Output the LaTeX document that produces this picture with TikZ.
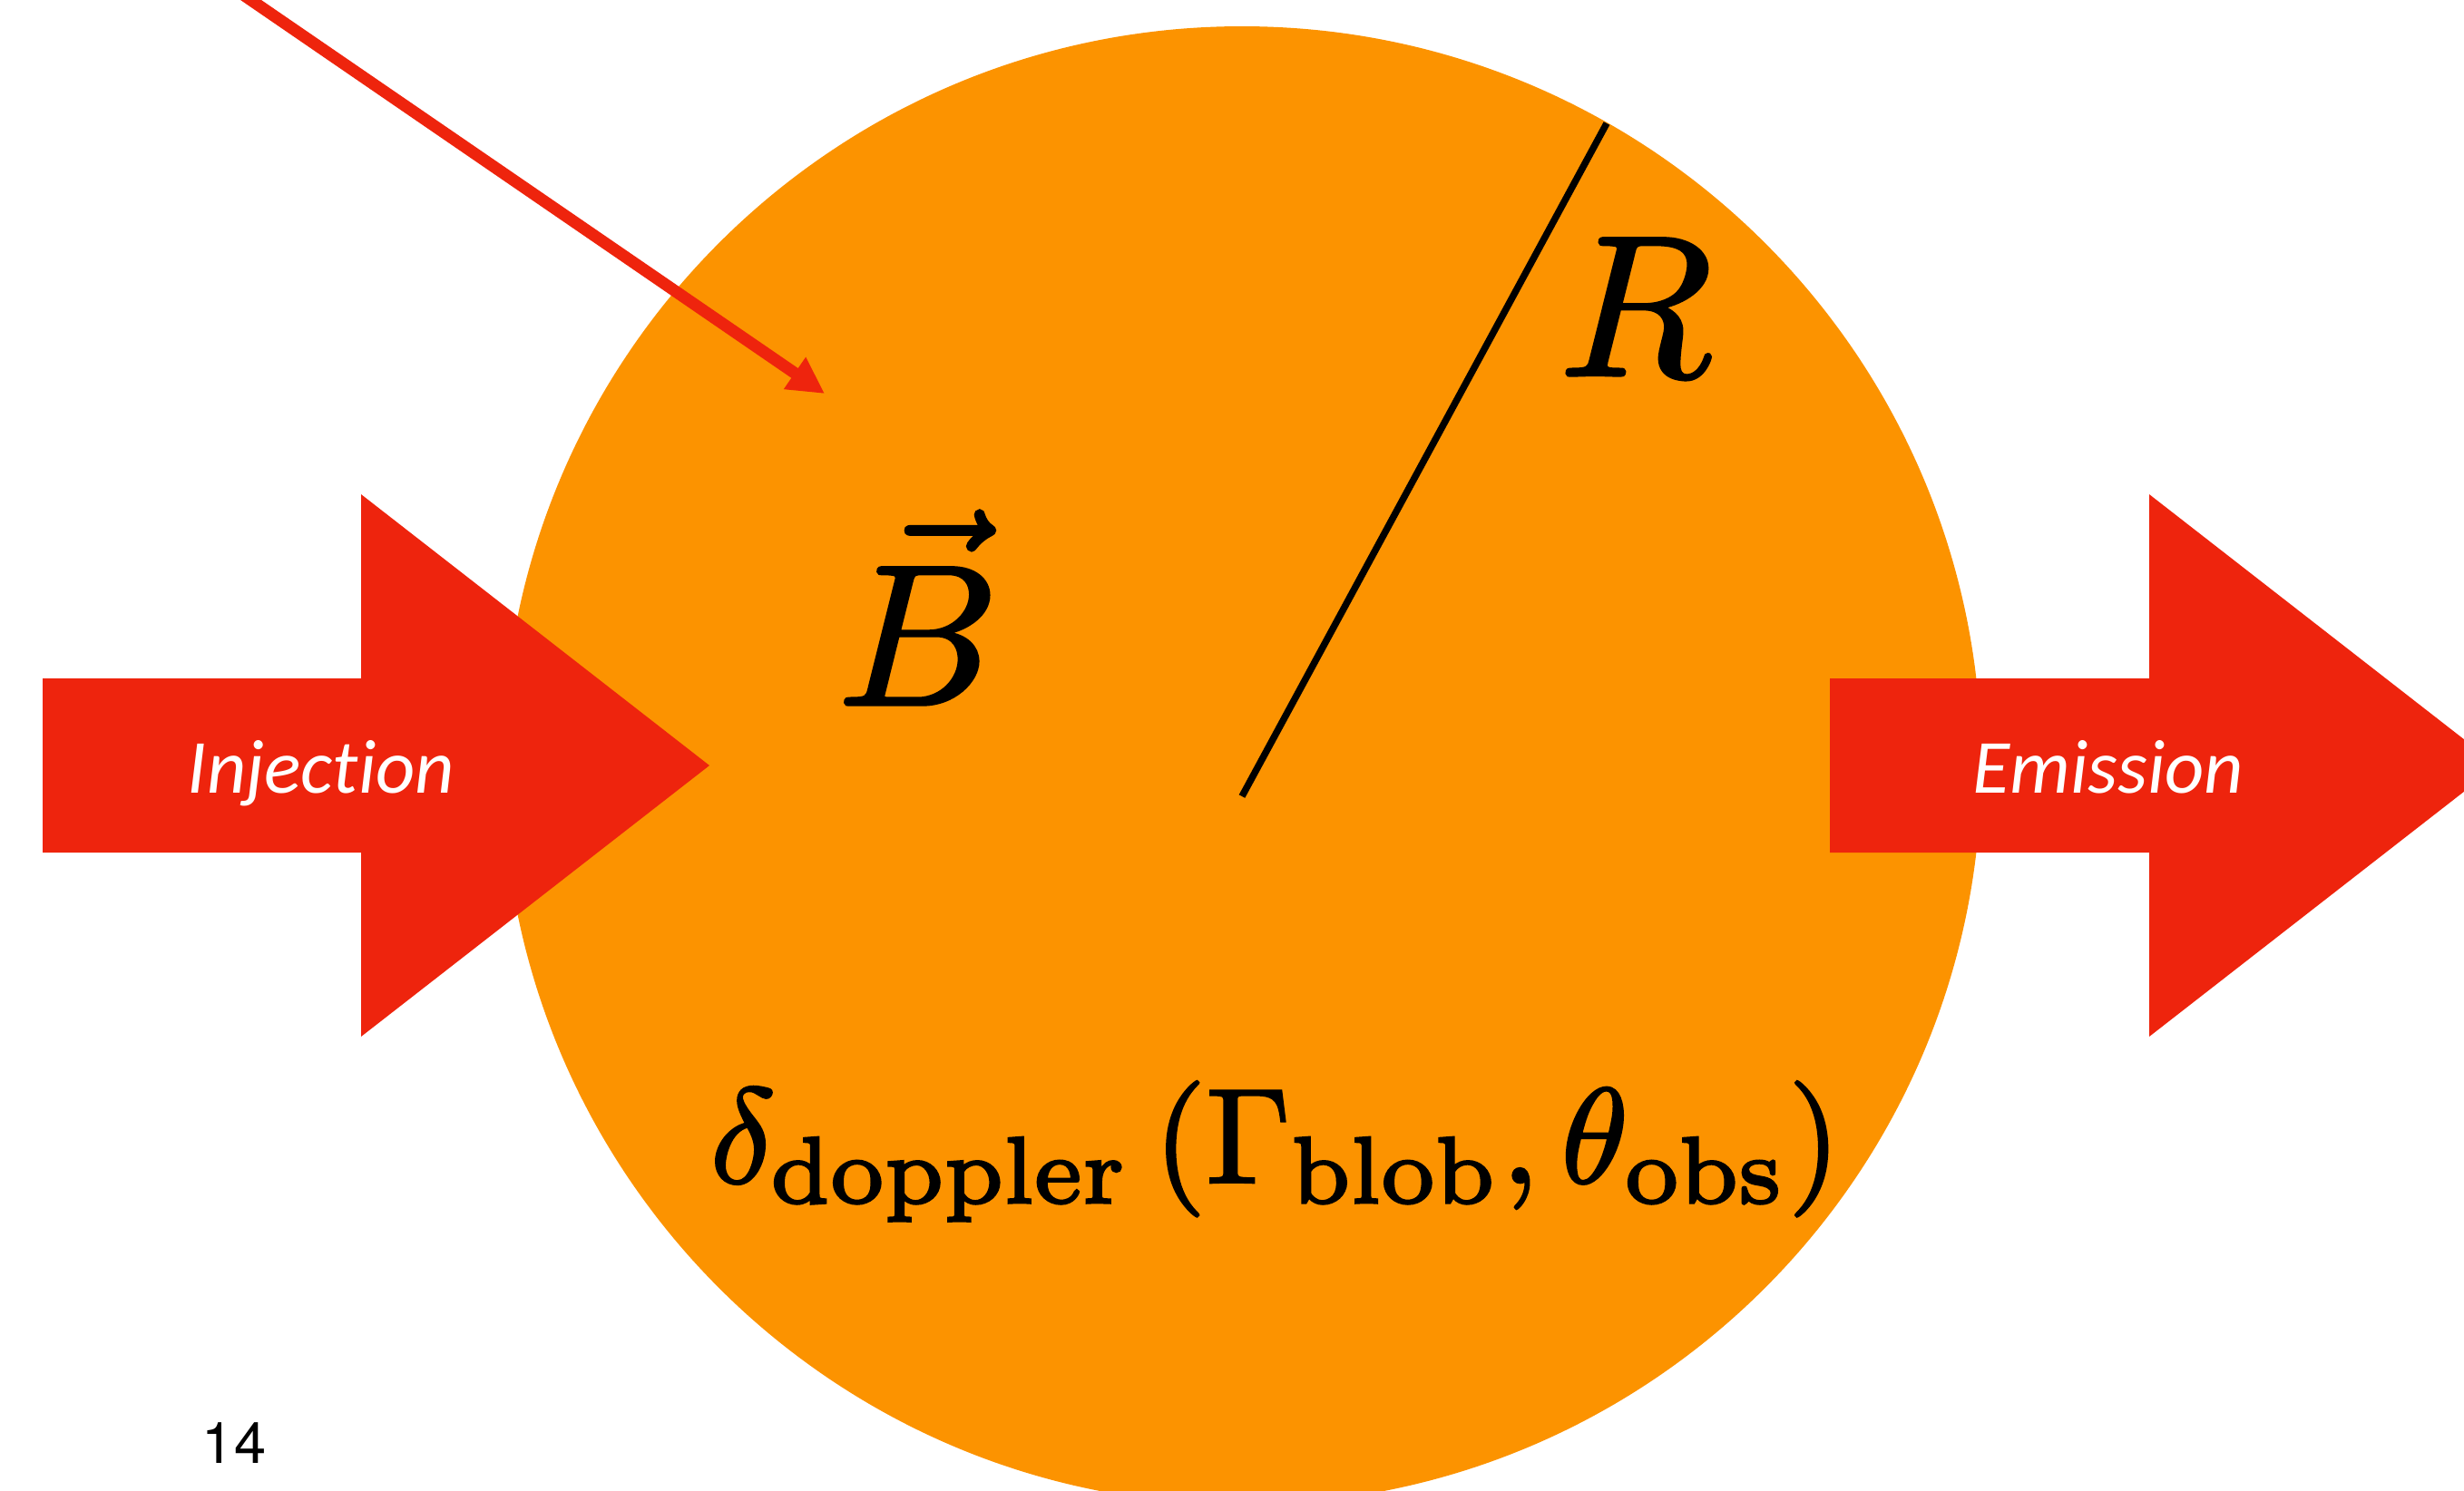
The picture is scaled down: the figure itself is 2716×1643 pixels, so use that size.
\documentclass[tikz,border=0pt]{standalone}
\usepackage{fontspec}
\usetikzlibrary{arrows.meta}
\newfontfamily\calib{Carlito}[Ligatures={NoCommon}]
\newfontfamily\numfont{TeX Gyre Heros}
\definecolor{blobor}{RGB}{252,147,0}
\definecolor{arrred}{RGB}{238,36,13}
\newcommand{\heavier}[2]{\special{pdf:literal 2 Tr #1 w}#2\special{pdf:literal 0 Tr}}
\begin{document}
\begin{tikzpicture}[x=0.1mm,y=-0.1mm,
  bigarrow/.style={fill=arrred,draw=none},
  arrlabel/.style={inner sep=0pt,anchor=base,text=white,font=\calib\itshape\fontsize{24}{28}\selectfont},
  mathlabel/.style={inner sep=0pt,anchor=base},
  pointer/.style={draw=arrred,line width=1.3mm,-{Triangle[length=4mm,width=4mm]}},
  radline/.style={draw=black,line width=0.75mm}]
\useasboundingbox (0,0) rectangle (2716,1643);
\clip (0,0) rectangle (2716,1643);
% blob
\fill[blobor] (1369,844) circle[radius=81.5mm];
% big arrows
\path[bigarrow] (47,748) -- (398,748) -- (398,545) -- (782,844) -- (398,1143) -- (398,940) -- (47,940) -- cycle;
\path[bigarrow] (2017,748) -- (2369,748) -- (2369,545) -- (2753,844) -- (2369,1143) -- (2369,940) -- (2017,940) -- cycle;
\node[arrlabel] (inj) at (354,874) {Injection};
\node[arrlabel] (emi) at (2324,874) {Emission};
% pointer arrow
\coordinate (pstart) at (227,-34);
\coordinate (pend) at (909,434);
\draw[pointer] (pstart) -- (pend);
% radius
\coordinate (ctr) at (1369,878);
\coordinate (rim) at (1771,136);
\draw[radline] (ctr) -- (rim);
% labels
\node[mathlabel,scale=6.3] (rlab) at (1803,414) {\heavier{0.15}{$R$}};
\node[mathlabel,scale=6.3] (blab) at (1012,777) {\heavier{0.15}{$\vec{B}$}};
\node[mathlabel,scale=4.24] (dop) at (1406,1304) {\heavier{0.18}{$\delta_{\rm doppler}\left(\Gamma_{\rm blob},\theta_{\rm obs}\right)$}};
\node[inner sep=0pt,anchor=base,font=\numfont\fontsize{18}{20}\selectfont] (pg) at (258,1613) {14};
\end{tikzpicture}
\end{document}
